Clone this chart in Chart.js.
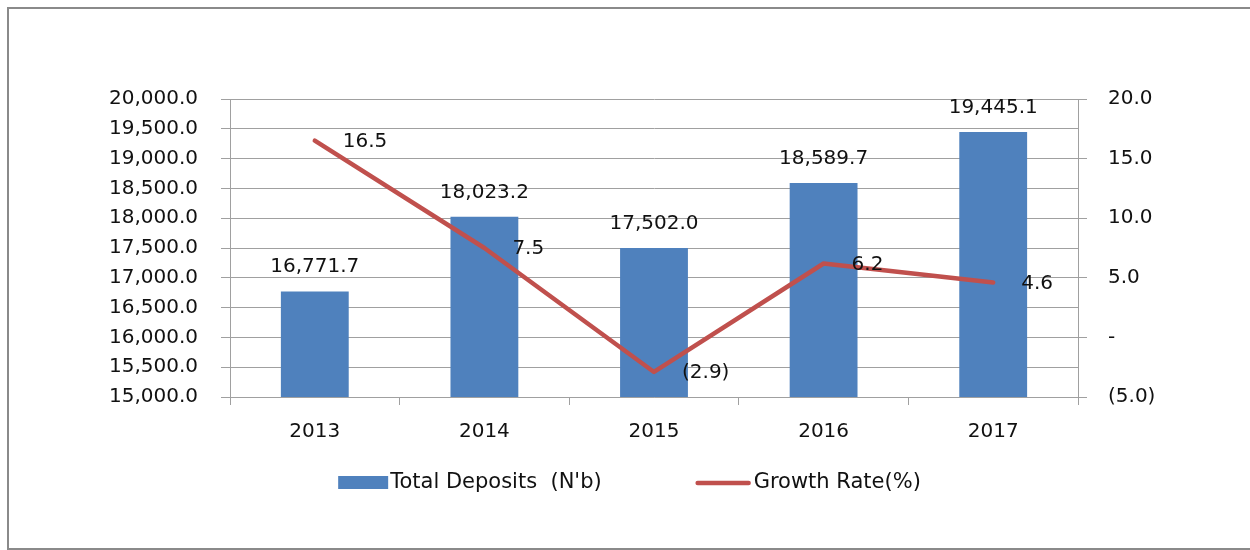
<!DOCTYPE html>
<html lang="en">
<head>
  <meta charset="UTF-8" />
  <title>Total Deposits and Growth Rate</title>
  <script src="https://cdn.jsdelivr.net/npm/chart.js"></script>
  <style>
    html, body { margin: 0; padding: 0; background: #fff; overflow: hidden; width: 1250px; height: 550px; }
    #frame { position: absolute; left: 7px; top: 7px; width: 1300px; height: 539px; border: 2px solid #8a8a8a; }
    #chart { position: absolute; left: 0; top: 0; }
  </style>
</head>
<body>
  <div id="frame">
    <canvas id="chart" width="1241" height="539"></canvas>
  </div>

  <script>
    // values
    const years = ['2013', '2014', '2015', '2016', '2017'];
    const deposits = [16771.7, 18023.2, 17502.0, 18589.7, 19445.1];
    const growth = [16.5, 7.5, -2.9, 6.2, 4.6];
    const depositLabel = "Total Deposits  (N'b)";
    const growthLabel = 'Growth Rate(%)';

    const FONT = '"DejaVu Sans", sans-serif';
    const TEXT = '#111';
    const BLUE = '#4F81BD';
    const RED = '#C0504D';
    const GRID = '#a0a0a0';

    function fmtDeposit(v) {
      return v.toLocaleString('en-US', { minimumFractionDigits: 1, maximumFractionDigits: 1 });
    }
    function fmtRate(v) {
      if (v === 0) return '-';
      if (v < 0) return '(' + Math.abs(v).toFixed(1) + ')';
      return v.toFixed(1);
    }

    // data labels like the spreadsheet: above the bars, right of the line points
    const valueLabels = {
      id: 'valueLabels',
      afterDatasetsDraw(chart) {
        const ctx = chart.ctx;
        ctx.save();
        ctx.font = '20px ' + FONT;
        ctx.fillStyle = TEXT;
        chart.getDatasetMeta(1).data.forEach((bar, i) => {
          ctx.textAlign = 'center';
          ctx.textBaseline = 'alphabetic';
          ctx.fillText(fmtDeposit(deposits[i]), bar.x, bar.y - 19);
        });
        chart.getDatasetMeta(0).data.forEach((pt, i) => {
          ctx.textAlign = 'left';
          ctx.textBaseline = 'middle';
          ctx.fillText(fmtRate(growth[i]), pt.x + 28, pt.y + 1);
        });
        ctx.restore();
      }
    };

    // legend drawn under the axis with a wide gap between the two entries
    const bottomLegend = {
      id: 'bottomLegend',
      afterDraw(chart) {
        const ctx = chart.ctx;
        ctx.save();
        ctx.font = '21px ' + FONT;
        const w1 = ctx.measureText(depositLabel).width;
        const w2 = ctx.measureText(growthLabel).width;
        const total = 50 + 2 + w1 + 94 + 55 + 3 + w2;
        let x = chart.width / 2 - total / 2;
        const y = 474;
        ctx.fillStyle = BLUE;
        ctx.fillRect(x, y - 7, 50, 13);
        x += 52;
        ctx.fillStyle = TEXT;
        ctx.textAlign = 'left';
        ctx.textBaseline = 'middle';
        ctx.fillText(depositLabel, x, y);
        x += w1 + 94;
        ctx.strokeStyle = RED;
        ctx.lineWidth = 4.5;
        ctx.lineCap = 'round';
        ctx.beginPath();
        ctx.moveTo(x + 2, y);
        ctx.lineTo(x + 53, y);
        ctx.stroke();
        x += 58;
        ctx.fillText(growthLabel, x, y);
        ctx.restore();
      }
    };

    new Chart(document.getElementById('chart'), {
      data: {
        labels: years,
        datasets: [
          {
            type: 'line', label: growthLabel, data: growth, yAxisID: 'y1', order: 0,
            borderColor: RED, borderWidth: 4.5, borderCapStyle: 'round', borderJoinStyle: 'round',
            pointRadius: 0, tension: 0, fill: false
          },
          {
            type: 'bar', label: depositLabel, data: deposits, yAxisID: 'y', order: 1,
            backgroundColor: BLUE, barPercentage: 0.4, categoryPercentage: 1
          }
        ]
      },
      options: {
        responsive: false,
        animation: false,
        layout: { padding: { top: 90, left: 0, right: 0, bottom: 0 } },
        plugins: { legend: { display: false }, tooltip: { enabled: false } },
        scales: {
          x: {
            offset: true,
            grid: { offset: true, drawOnChartArea: false, tickLength: 8, color: GRID },
            border: { color: GRID },
            ticks: { font: { family: FONT, size: 20 }, color: TEXT, padding: 15, maxRotation: 0 },
            afterFit: s => { s.height = 151; }
          },
          y: {
            position: 'left', min: 15000, max: 20000,
            grid: { color: GRID, tickLength: 9 },
            border: { color: GRID },
            ticks: { stepSize: 500, font: { family: FONT, size: 20 }, color: TEXT, padding: 23, callback: v => fmtDeposit(v) },
            afterFit: s => { s.width = 221; }
          },
          y1: {
            position: 'right', min: -5, max: 20,
            grid: { drawOnChartArea: false, color: GRID, tickLength: 9 },
            border: { color: GRID },
            ticks: { stepSize: 5, font: { family: FONT, size: 20 }, color: TEXT, padding: 21, callback: v => fmtRate(v) },
            afterFit: s => { s.width = 172; }
          }
        }
      },
      plugins: [valueLabels, bottomLegend]
    });
  </script>
</body>
</html>
